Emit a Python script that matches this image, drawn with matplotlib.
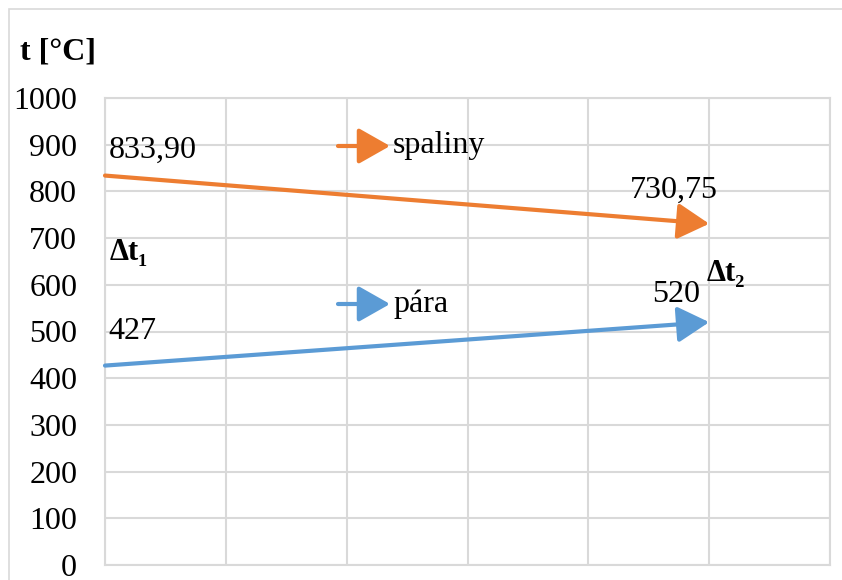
import matplotlib.pyplot as plt
from matplotlib.patches import Rectangle

# data
x_pts = [0, 5]
spaliny = [833.90, 730.75]
para = [427, 520]
spaliny_lbl = ["833,90", "730,75"]
para_lbl = ["427", "520"]
y_ticks = [0, 100, 200, 300, 400, 500, 600, 700, 800, 900, 1000]

orange = "#ED7D31"
blue = "#5B9BD5"
grid_c = "#D9D9D9"

plt.rcParams['font.family'] = ['Liberation Serif', 'DejaVu Serif']
fs = 23
arrow_style = '-|>,head_length=0.97,head_width=0.55'

fig = plt.figure(figsize=(8.42, 5.80), dpi=100)
fig.patches.append(Rectangle((9 / 842, -0.1), 1.2, 1 - 9 / 580 + 0.1,
                             transform=fig.transFigure, fill=False,
                             edgecolor=grid_c, lw=1.2))
ax = fig.add_axes([105 / 842, 1 - 565 / 580, 725 / 842, 467 / 580])

ax.set_xlim(0, 6)
ax.set_ylim(0, 1000)
ax.set_xticks(range(0, 7))
ax.set_xticklabels([])
ax.set_yticks(y_ticks)
ax.set_yticklabels([str(v) for v in y_ticks], fontsize=fs)
ax.tick_params(length=0, pad=20)
ax.grid(True, color=grid_c, lw=1.5)
for s in ax.spines.values():
    s.set_color(grid_c)
    s.set_linewidth(1.5)

# lines with arrow heads
for yy, c in [(spaliny, orange), (para, blue)]:
    ax.annotate('', xy=(x_pts[1], yy[1]), xytext=(x_pts[0], yy[0]),
                arrowprops=dict(arrowstyle=arrow_style, lw=3, color=c,
                                shrinkA=0, shrinkB=0, mutation_scale=20))

# value labels
ax.text(0.03, 889, spaliny_lbl[0], fontsize=fs, va='center', ha='left')
ax.text(4.71, 803, spaliny_lbl[1], fontsize=fs, va='center', ha='center')
ax.text(0.03, 499, para_lbl[0], fontsize=fs, va='center', ha='left')
ax.text(4.73, 580, para_lbl[1], fontsize=fs, va='center', ha='center')

ax.text(0.04, 670, "Δt₁", fontsize=fs - 1, va='center', ha='left',
        fontweight='bold')
ax.text(4.98, 625, "Δt₂", fontsize=fs - 1, va='center', ha='left',
        fontweight='bold')

# legend-like entries
for (lbl, c, ypx) in [("spaliny", orange, 146), ("pára", blue, 304)]:
    yf = 1 - ypx / 580
    ax.annotate('', xy=(390 / 842, yf), xytext=(338 / 842, yf),
                xycoords='figure fraction', textcoords='figure fraction',
                arrowprops=dict(arrowstyle=arrow_style, lw=3, color=c,
                                shrinkA=0, shrinkB=0, mutation_scale=20))
    fig.text(393 / 842, yf, lbl, fontsize=fs, va='center', ha='left')

fig.text(20 / 842, 1 - 52 / 580, "t [°C]", fontsize=fs, fontweight='bold',
         va='center', ha='left')

fig.savefig("out.png", dpi=100)
